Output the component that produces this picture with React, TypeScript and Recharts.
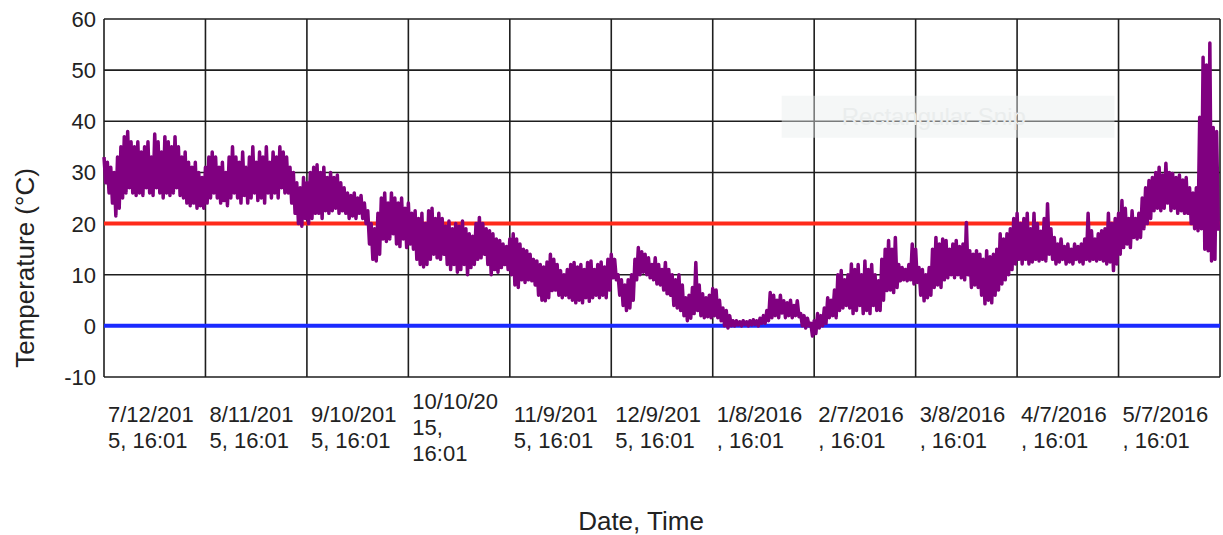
import React from "react";
import {
  LineChart,
  Line,
  XAxis,
  YAxis,
  CartesianGrid,
  ReferenceLine,
  ReferenceArea,
} from "recharts";

// day index 0 = 7/12/2015 16:01, one high and one low reading per day
const highs = [
  33, 32, 31, 30, 33, 35, 37, 38, 36, 35,
  36, 34, 35, 36, 33, 37.5, 36, 34, 37, 36,
  35, 37, 35, 33, 34, 32, 31, 32, 30, 29,
  31, 33, 34, 33, 31, 32, 30, 33, 35, 33,
  32, 34, 31, 33, 35, 32, 34, 33, 35, 32,
  34, 33, 35, 34, 33, 31, 30, 28, 27, 29,
  28, 30, 31, 31.5, 30, 31, 29, 30, 29, 29.5,
  28, 27, 26, 25.5, 26, 25, 25.5, 24, 22.5, 20,
  19, 22, 25, 26, 24, 26, 25, 24, 25, 23,
  24, 22, 22.5, 21, 22, 20, 22.5, 23, 21, 22,
  21, 19.5, 20.5, 19, 20, 19.5, 20.5, 19, 18, 17.5,
  20, 21.2, 20, 19, 18.6, 18, 17, 16.7, 16, 15.5,
  17, 18, 17, 16, 15, 14.7, 14, 13, 12.7, 12,
  11.5, 12.5, 14, 13, 12, 10.8, 10, 11, 12, 12.4,
  11.5, 12, 11, 12.4, 12.7, 11, 12, 12.5, 11.5, 13,
  14, 13, 10, 9, 8, 9, 10, 13, 15.3, 14.5,
  14, 13.3, 12, 13.3, 12, 11, 12.4, 11, 10, 9,
  10, 8, 5.5, 6, 7.5, 12.4, 8, 6.3, 5.5, 6,
  7.3, 7, 5, 3.5, 3, 2, 1, 1, 0.8, 1,
  0.8, 1, 1.2, 1, 1.5, 2, 3, 6.5, 6, 5,
  6, 4.9, 4.5, 5, 4, 4.9, 2.4, 2, 1.5, 0.5,
  1, 2.4, 2, 3.5, 5.5, 5, 7, 10, 10.8, 9,
  10, 12.1, 11, 12, 10, 12.7, 11, 12, 10, 8.8,
  13, 15, 16.7, 15, 17.3, 12, 11.4, 11, 12, 16,
  15, 11.4, 11, 10, 11.4, 15, 17.3, 16, 17, 16.7,
  15, 16, 16.7, 15.5, 16, 20.2, 14.7, 14, 14.7, 14,
  13, 14.7, 13.5, 14, 15, 18, 17, 18, 19, 21,
  22, 20, 21, 22, 19, 22, 20, 18.5, 21, 23.9,
  19, 17.3, 16, 17, 15.5, 16, 15, 16, 15.5, 16,
  17, 22, 18.6, 17, 18, 18.6, 19, 22, 20, 21,
  22, 24.5, 23, 21, 22.5, 21, 22, 25, 27, 28.4,
  29, 30, 31, 29.5, 31.8, 30, 29.8, 29, 29.5, 28.5,
  29, 27, 26, 27, 40.8, 52.5, 51, 55.3, 38.8, 38,
];

const lows = [
  28, 26, 24, 21.5, 23, 25, 26, 27, 26, 25.5,
  26, 25.5, 27, 26, 25.5, 27, 26, 25, 26, 25.5,
  26, 27, 25.5, 25, 24, 23.5, 24, 23, 23.5, 23,
  24, 25, 26, 25, 24, 24.5, 23.5, 25, 26, 25,
  24, 25.5, 24, 25, 26, 24.5, 25, 24, 26, 25,
  26, 25, 27, 26, 26, 24, 22, 20, 19.5, 21,
  20, 21, 22, 22, 21, 22.5, 22, 22.5, 23, 22,
  22.5, 22, 21, 21.5, 21, 22, 21, 20, 16, 13,
  12.7, 14, 17, 16.5, 17, 18, 16, 15.5, 17, 15.3,
  16, 15, 13, 12, 11.5, 12, 13, 14, 13.3, 13,
  14, 12, 11, 12, 10.5, 11, 12, 10, 11.4, 12,
  13, 13.3, 14, 12, 10, 11, 10.5, 11.4, 12, 11,
  10, 8, 7.5, 9, 8.5, 9, 8.8, 8, 6, 5,
  4.9, 5.5, 6.9, 7, 6, 5.5, 6, 5.5, 5, 4.5,
  5, 4.5, 5.5, 4.8, 5.5, 6, 5.5, 6, 5.5, 7,
  9.4, 9, 6, 4, 3, 3.5, 5, 9, 10, 10.5,
  10, 9.4, 9, 8.2, 8, 7, 6.3, 6, 4, 3.5,
  3, 2, 1, 1.5, 2.4, 3, 2, 1.6, 1.8, 1.6,
  2, 1.6, 1, 0, -0.4, 0, 0, 0.2, 0, 0.3,
  0, 0.2, 0.3, 0, 0.5, 0.5, 1, 1.6, 2, 1.6,
  2.5, 1.6, 2, 1.6, 2, 1.8, 0, -0.4, 0, -2,
  -1.5, -0.4, 0, 0.5, 1.6, 2, 1.6, 3, 3.5, 4,
  3.5, 2.4, 3, 4, 2.4, 3, 2.4, 4, 3, 3,
  5, 6.9, 7, 6.5, 7.5, 8.8, 9, 8.8, 9, 8.2,
  8.5, 6, 4.9, 5.5, 6, 7.5, 8, 7.5, 9, 9.4,
  10, 9.4, 10, 9.4, 9, 10, 7.5, 8, 7.5, 6,
  4.3, 5, 4.5, 6, 7, 8.2, 9, 10, 11, 12.1,
  13, 12.1, 13, 12.1, 12.5, 13, 12.7, 13, 12.7, 14,
  13, 12.1, 12.5, 13, 12.1, 12.5, 12.1, 13, 12.5, 12.1,
  13, 12.7, 13, 12.7, 13, 12.7, 12.1, 12.5, 10.8, 12.1,
  14, 15.3, 16, 15.3, 17.3, 17, 17.3, 19, 20, 21,
  22.5, 23, 22.5, 23, 24, 22.5, 23, 22, 22.5, 22,
  22, 20, 19, 18.6, 19, 15, 14.7, 12.7, 13, 18.6,
];

const xTicks = [0, 30, 60, 90, 120, 150, 180, 210, 240, 270, 300, 330];
const xTickLabels = [
  ["7/12/201", "5, 16:01"],
  ["8/11/201", "5, 16:01"],
  ["9/10/201", "5, 16:01"],
  ["10/10/20", "15,", "16:01"],
  ["11/9/201", "5, 16:01"],
  ["12/9/201", "5, 16:01"],
  ["1/8/2016", ", 16:01"],
  ["2/7/2016", ", 16:01"],
  ["3/8/2016", ", 16:01"],
  ["4/7/2016", ", 16:01"],
  ["5/7/2016", ", 16:01"],
];
const yTicks = [-10, 0, 10, 20, 30, 40, 50, 60];
const upperLimit = 20;
const lowerLimit = 0;

const data: { t: number; v: number }[] = [];
highs.forEach((h, i) => {
  data.push({ t: i, v: h });
  data.push({ t: i + 0.5, v: lows[i] });
});

const FONT = "'Liberation Sans', Arial, sans-serif";
const TEXT = "#222";

function XTick({ x, y, payload }: any) {
  const idx = xTicks.indexOf(payload.value);
  const lines = xTickLabels[idx];
  if (!lines) return null;
  const first = 47.5 - (lines.length - 1) * 13 + 8;
  return (
    <text x={x + 4} y={y + first} fill={TEXT} fontSize={22} fontFamily={FONT}>
      {lines.map((l, i) => (
        <tspan key={i} x={x + 4} dy={i === 0 ? 0 : 26}>
          {l}
        </tspan>
      ))}
    </text>
  );
}

function YTick({ x, y, payload }: any) {
  return (
    <text x={x} y={y + 8} textAnchor="end" fill={TEXT} fontSize={22} fontFamily={FONT}>
      {payload.value}
    </text>
  );
}

export default function App() {
  return (
    <div style={{ width: 1223, height: 535 }}>
      <style>{`body{margin:0;background:#fff}`}</style>
      <LineChart
        width={1223}
        height={535}
        data={data}
        margin={{ top: 19, right: 3, bottom: 58, left: 44 }}
      >
        <CartesianGrid stroke="#1e1e1e" strokeWidth={1.6} />
        <XAxis
          dataKey="t"
          type="number"
          domain={[0, 330]}
          ticks={xTicks}
          tick={<XTick />}
          tickLine={false}
          axisLine={false}
          tickSize={0}
          interval={0}
          height={100}
          label={{
            content: () => (
              <text x={641} y={530} textAnchor="middle" fill={TEXT} fontSize={26} fontFamily={FONT}>
                Date, Time
              </text>
            ),
          }}
        />
        <YAxis
          type="number"
          domain={[-10, 60]}
          ticks={yTicks}
          tick={<YTick />}
          tickLine={false}
          axisLine={false}
          tickSize={0}
          tickMargin={8}
          width={60}
          label={{
            content: () => (
              <text
                x={25}
                y={268}
                transform="rotate(-90 25 268)"
                textAnchor="middle"
                dominantBaseline="central"
                fill={TEXT}
                fontSize={26}
                fontFamily={FONT}
              >
                Temperature (°C)
              </text>
            ),
          }}
        />
        <ReferenceArea
          x1={200.4}
          x2={298.8}
          y1={36.8}
          y2={45}
          fill="#e9eded"
          fillOpacity={0.45}
          stroke="none"
          label={{
            value: "Rectangular Snip",
            position: "insideLeft",
            offset: 60,
            fill: "#eaeded",
            fontSize: 24,
            fontFamily: FONT,
          }}
        />
        <ReferenceLine y={upperLimit} stroke="#ff2a1a" strokeWidth={4} />
        <ReferenceLine y={lowerLimit} stroke="#1a2aff" strokeWidth={4} />
        <Line
          type="linear"
          dataKey="v"
          stroke="#800080"
          strokeWidth={3.5}
          strokeLinejoin="round"
          dot={false}
          activeDot={false}
          isAnimationActive={false}
        />
      </LineChart>
    </div>
  );
}
